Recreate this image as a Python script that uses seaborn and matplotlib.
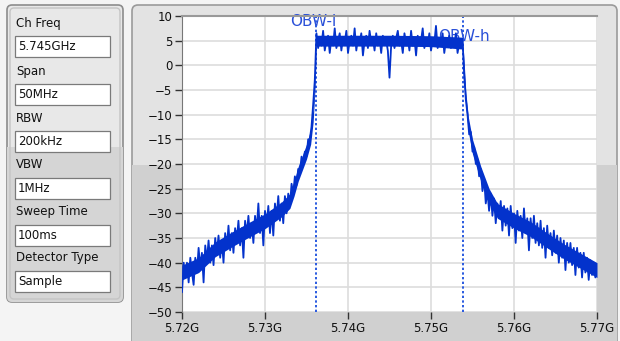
import numpy as np
import pandas as pd
import seaborn as sns
import matplotlib.pyplot as plt
from matplotlib.patches import FancyBboxPatch, Rectangle

# sweep grid: 5.72 GHz .. 5.77 GHz, 251 points (0.2 MHz step)
f_start, f_stop, n_points = 5.72, 5.77, 251

# trace levels (dB), split by region
left_skirt = [
    -46, -40, -43, -40, -44, -39, -42, -44.5, -39, -42, -37, -41, -38, -44, -36.5, -39.5,
    -35.5, -40, -36.5, -40.5, -35, -38, -34.5, -39, -35.5, -40, -34, -37, -32.5, -37.5,
    -34, -38, -33, -35.5, -31.5, -36.5, -33, -39, -31.5, -34.5, -30.5, -35, -32, -36,
    -30.5, -33.5, -28, -34, -30.5, -36.5, -29.5, -32.5, -28.5, -34, -29.5, -34.5, -28,
    -31, -26.5, -31.5, -28, -32, -26.5, -30, -26, -28.5, -24, -26, -22.5, -24.3, -21,
    -22, -18.5, -20, -17.5, -18.5, -15, -15, -12.5, -8, -3,
]
plateau = [
    6.5, 3.5, 5.5, 4, 7, 3, 5, 6, 2.5, 5.5, 4, 7.5, 3.5, 5, 6.5, 3, 5.5, 4.5, 7, 2.5,
    5, 6, 4, 7.5, 3, 5.5, 4.5, 6.5, 2, 5, 6, 3.5, 7, 4.5, 5.5, 3, 6.5, 4, 5.5, 2.5,
    6, 4.5, 5, 3, -2.5, 4, 6, 3.5, 5.5, 7, 4, 5, 2.5, 6.5, 4.5, 5.5, 3, 7, 4, 5.5,
    2, 6, 4.5, 5, 7.5, 3.5, 5.5, 4, 6.5, 3, 5, 4.5, 8, 3.5, 5, 4, 6.5, 2.5, 5, 4,
    6, 3.5, 5.5, 4, 6.5, 2.5, 4.5, 3.5, 5,
]
right_skirt = [
    -2, -7, -10, -14, -13.5, -17.5, -16.5, -20, -19, -22.5, -21, -25.5, -23, -28, -25.5,
    -29.5, -26, -30.5, -27, -32, -28, -31, -27.5, -33.5, -28.5, -32.5, -29, -34.5, -28.5,
    -33, -30, -36, -29.5, -33.5, -30.5, -35, -29, -34, -31, -37.5, -31, -35, -30.5, -36,
    -32, -36.5, -31.5, -37, -33, -39, -32.5, -37, -34, -38.5, -33.5, -38, -34.5, -40, -35,
    -39, -35.5, -41.5, -36, -40, -36, -40.5, -37, -42.5, -37, -41, -38, -43, -38, -42,
    -39, -43.5, -39.5, -42.5, -40, -43, -41,
]

# dense core of the noisy trace (upper / lower edge of the solid band)
env_freq = [5.720, 5.722, 5.724, 5.726, 5.728, 5.730, 5.732, 5.733, 5.7335, 5.734,
            5.735, 5.7355, 5.7358, 5.736, 5.7362, 5.740, 5.745, 5.750, 5.7538, 5.754,
            5.7542, 5.7545, 5.755, 5.756, 5.757, 5.758, 5.760, 5.762, 5.764, 5.766,
            5.768, 5.770]
env_hi = [-40.5, -39, -35.8, -33.8, -31.9, -30.1, -27.7, -26, -23.5, -20.5, -16, -13,
          -8.5, -2.5, 6.1, 6.1, 6.1, 6.0, 5.7, 0.5, -5.5, -10.5, -15, -20.5, -25,
          -28, -30, -31.7, -34, -36.2, -38.1, -40]
env_lo = [-43.5, -42, -38.8, -36.8, -34.9, -33.1, -30.7, -29, -26.5, -23.5, -19, -16,
          -11.5, -5.5, 3.9, 3.9, 3.9, 3.8, 3.3, -2.5, -8.5, -13.5, -18, -23.5, -28,
          -31, -33, -34.7, -37, -39.2, -41.1, -43]

obw_low, obw_high = 5.7361, 5.7539
x_ticks = [5.72, 5.73, 5.74, 5.75, 5.76, 5.77]
x_tick_labels = ['5.72G', '5.73G', '5.74G', '5.75G', '5.76G', '5.77G']
y_ticks = list(range(-50, 11, 5))

param_labels = ['Ch Freq', 'Span', 'RBW', 'VBW', 'Sweep Time', 'Detector Type']
param_values = ['5.745GHz', '50MHz', '200kHz', '1MHz', '100ms', 'Sample']

df = pd.DataFrame({
    'freq': np.linspace(f_start, f_stop, n_points),
    'level': left_skirt + plateau + right_skirt,
})

sns.set_style('white')
plt.rcParams['font.family'] = ['DejaVu Sans']

W, H = 620, 341
trace_color = '#0332cc'
fig = plt.figure(figsize=(W / 100, H / 100), dpi=100, facecolor='#f4f4f4')

# background / control panels drawn in pixel coordinates
bg = fig.add_axes([0, 0, 1, 1], zorder=0)
bg.set_xlim(0, W)
bg.set_ylim(H, 0)
bg.axis('off')

# left parameter panel
lp = FancyBboxPatch((7, 5), 116, 297, boxstyle='round,pad=0,rounding_size=5',
                    fc='#e8e8e8', ec='#8c8c8c', lw=1.2)
bg.add_patch(lp)
low = Rectangle((7, 147), 116, 160, fc='#d5d5d5', ec='none')
bg.add_patch(low)
low.set_clip_path(lp)
bg.add_patch(FancyBboxPatch((10, 8), 110, 291, boxstyle='round,pad=0,rounding_size=4',
                            fc='none', ec='#c4c4c4', lw=1))

label_y = [23, 71, 118, 165, 212, 258]
for lab, val, ly in zip(param_labels, param_values, label_y):
    bg.text(16, ly, lab, fontsize=8.5, va='center', ha='left', color='#111111')
    bg.add_patch(Rectangle((15, ly + 13), 95, 21, fc='white', ec='#7a7a7a', lw=0.9))
    bg.text(18, ly + 23.5, val, fontsize=8.5, va='center', ha='left', color='#111111')

# right graph panel
rp = FancyBboxPatch((132, 5), 485, 345, boxstyle='round,pad=0,rounding_size=6',
                    fc='#e3e3e3', ec='#9a9a9a', lw=1.2)
bg.add_patch(rp)
low2 = Rectangle((132, 165), 485, 190, fc='#d0d0d0', ec='none')
bg.add_patch(low2)
low2.set_clip_path(rp)

# plot area
ax = fig.add_axes([182 / W, (H - 312) / H, 415 / W, 296 / H], zorder=1)
ax.set_facecolor('white')
ax.fill_between(env_freq, env_lo, env_hi, color=trace_color, linewidth=0, zorder=3)
sns.lineplot(data=df, x='freq', y='level', ax=ax, color=trace_color, linewidth=1.3,
             estimator=None, sort=False, zorder=3)
for xv in (obw_low, obw_high):
    ax.axvline(xv, color='#2a5ae0', linestyle=(0, (1.2, 1.2)), linewidth=1.4, zorder=2)
ax.text(5.7330, 8.8, 'OBW-l', color='#2a50d8', fontsize=11, ha='left', va='center', zorder=1)
ax.text(5.7571, 5.8, 'OBW-h', color='#2a50d8', fontsize=11, ha='right', va='center', zorder=1)

ax.set_xlim(f_start, f_stop)
ax.set_ylim(-50, 10)
ax.set_xticks(x_ticks)
ax.set_xticklabels(x_tick_labels)
ax.set_yticks(y_ticks)
ax.set_xlabel('')
ax.set_ylabel('')
ax.grid(True, color='#dddddd', linewidth=1.2)
ax.set_axisbelow(True)
ax.tick_params(axis='both', direction='out', length=5, width=1, color='#333333',
               labelsize=8.5, labelcolor='#111111', pad=2)
ax.tick_params(axis='x', bottom=True)
ax.tick_params(axis='y', left=True)
for side in ('right', 'bottom'):
    ax.spines[side].set_visible(False)
ax.spines['left'].set_color('#777777')
ax.spines['top'].set_color('#999999')
ax.spines['top'].set_linewidth(1.5)

fig.savefig('out.png', dpi=100, facecolor=fig.get_facecolor())
